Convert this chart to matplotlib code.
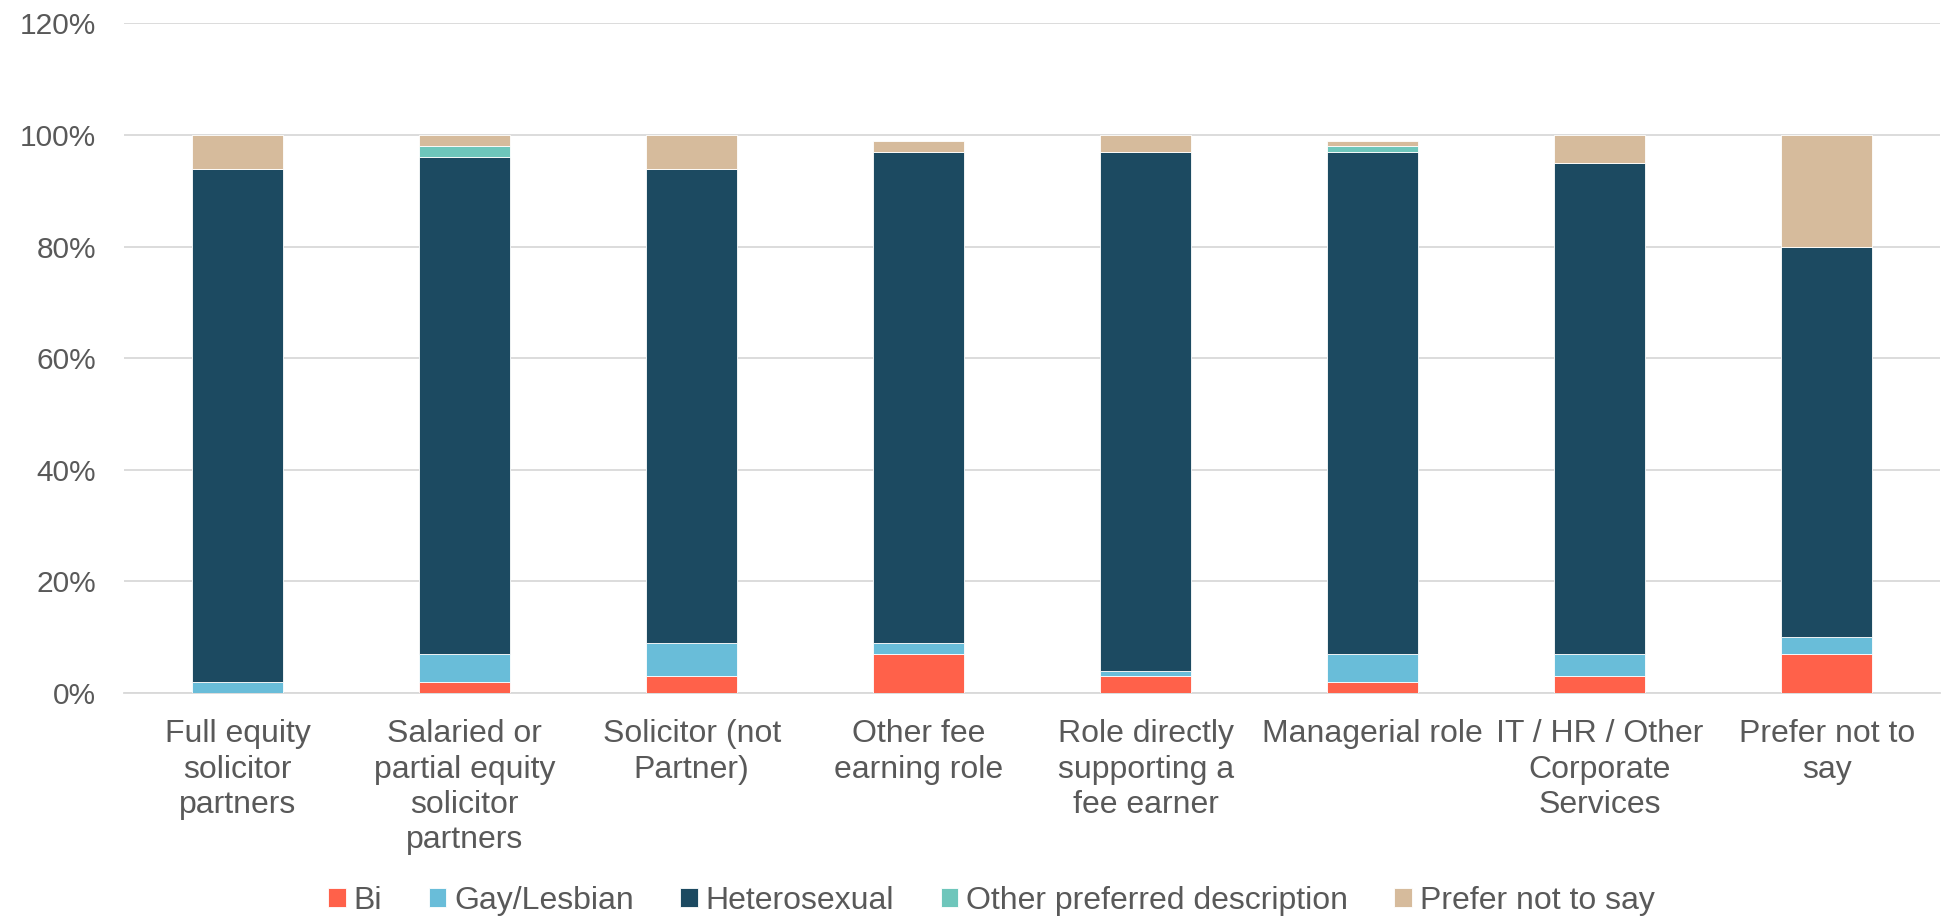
import matplotlib
matplotlib.use("Agg")
import matplotlib.pyplot as plt
from matplotlib.ticker import PercentFormatter
import numpy as np

plt.rcParams['font.family'] = ['Liberation Sans', 'DejaVu Sans']

categories = [
    "Full equity\nsolicitor\npartners",
    "Salaried or\npartial equity\nsolicitor\npartners",
    "Solicitor (not\nPartner)",
    "Other fee\nearning role",
    "Role directly\nsupporting a\nfee earner",
    "Managerial role",
    "IT / HR / Other\nCorporate\nServices",
    "Prefer not to\nsay",
]
bi = [0, 2, 3, 7, 3, 2, 3, 7]
gay_lesbian = [2, 5, 6, 2, 1, 5, 4, 3]
heterosexual = [92, 89, 85, 88, 93, 90, 88, 70]
other_desc = [0, 2, 0, 0, 0, 1, 0, 0]
prefer_not = [6, 2, 6, 2, 3, 1, 5, 20]

series_names = ["Bi", "Gay/Lesbian", "Heterosexual", "Other preferred description", "Prefer not to say"]
series_values = [bi, gay_lesbian, heterosexual, other_desc, prefer_not]
colors = ["#FF614A", "#69BDD9", "#1C4A61", "#6EC6BB", "#D6BB9C"]

fig = plt.figure(figsize=(19.48, 9.21), dpi=100)
ax = fig.add_axes([0.0637, 0.2476, 0.9323, 0.7269])

x = np.arange(len(categories))
bottom = np.zeros(len(categories))
for name, vals, c in zip(series_names, series_values, colors):
    v = np.array(vals, dtype=float) / 100
    ax.bar(x, v, bottom=bottom, width=0.4, color=c, label=name,
           edgecolor='white', linewidth=0.6, zorder=3)
    bottom += v

ax.set_ylim(0, 1.2)
ax.set_xlim(-0.5, len(categories) - 0.5)
ax.set_yticks(np.arange(0, 1.21, 0.2))
ax.yaxis.set_major_formatter(PercentFormatter(1.0, decimals=0))
ax.grid(axis='y', color='#D9D9D9', linewidth=1.3, zorder=0)
ax.set_axisbelow(True)
for s in ['top', 'right', 'left']:
    ax.spines[s].set_visible(False)
ax.spines['bottom'].set_color('#D9D9D9')
ax.spines['bottom'].set_linewidth(1.3)
ax.tick_params(axis='y', length=0, pad=20, labelsize=21.5, labelcolor='#595959')
ax.tick_params(axis='x', length=0, pad=19, labelsize=23, labelcolor='#595959')
ax.set_xticks(x)
ax.set_xticklabels(categories, linespacing=1.23)

fig.legend(loc='center', bbox_to_anchor=(0.509, 0.022), ncol=5, frameon=False,
           fontsize=23, handlelength=0.55, handleheight=0.55, handletextpad=0.25,
           columnspacing=1.45, labelcolor='#595959')

fig.savefig("out.png", dpi=100)
